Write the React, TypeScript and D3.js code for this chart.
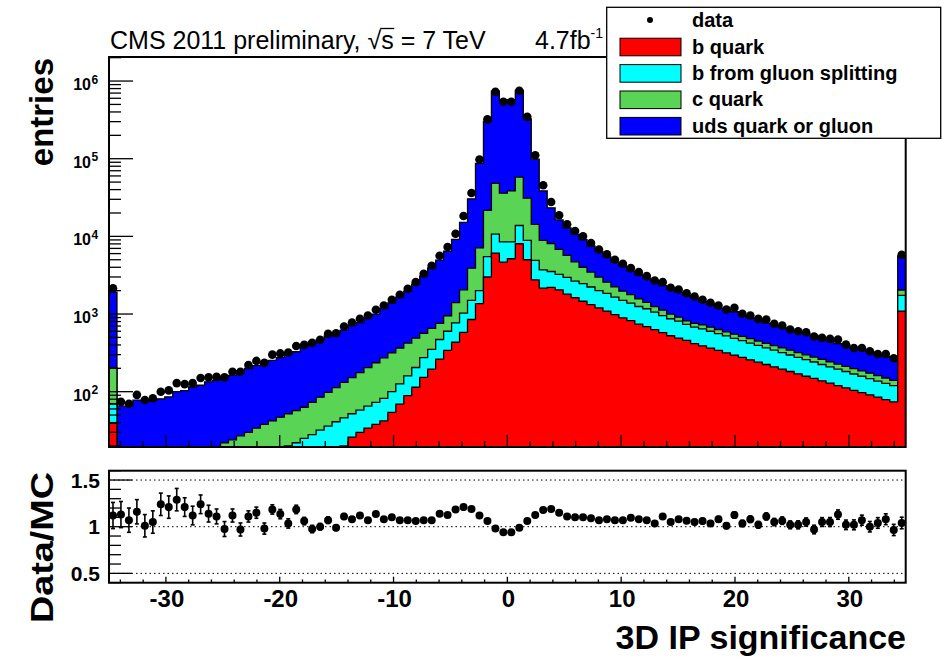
import React, { useLayoutEffect, useRef, useState } from 'react';
import * as d3 from 'd3';

// 3D IP significance, 100 bins from -35 to 35 (first and last bin hold the under/overflow)
const xMin = -35;
const xMax = 35;
const nBins = 100;

const bQuark = [39,
  1, 1, 1, 1, 1, 2, 2, 2, 2, 3,
  3, 3, 4, 4, 5, 5, 6, 7, 7, 8,
  9, 10, 11, 12, 13, 15, 16, 18, 20, 26,
  30, 34, 38, 42, 54, 69, 89, 114, 153, 195,
  263, 340, 433, 580, 850, 1360, 3000, 6100, 4650, 5150,
  8040, 5000, 2750, 2150, 2200, 2050, 1800, 1620, 1460, 1320,
  1200, 1090, 980, 890, 820, 740, 690, 630, 575, 525,
  490, 457, 417, 390, 364, 340, 317, 296, 276, 257,
  240, 224, 209, 195, 182, 170, 158, 148, 138, 129,
  120, 112, 104, 97, 91, 85, 79, 74, 1090];

const bGluon = [30,
  1, 1, 2, 2, 2, 2, 2, 3, 3, 3,
  4, 4, 4, 5, 5, 6, 6, 7, 8, 9,
  9, 10, 11, 13, 15, 17, 20, 23, 26, 26,
  28, 31, 35, 40, 46, 57, 71, 91, 122, 155,
  207, 260, 337, 450, 650, 640, 2500, 4600, 3850, 3350,
  5760, 3900, 2150, 1550, 1330, 1190, 1160, 1030, 1010, 910,
  800, 760, 670, 610, 560, 510, 480, 430, 380, 345,
  320, 278, 263, 255, 236, 220, 205, 191, 178, 166,
  154, 143, 133, 124, 115, 107, 100, 93, 86, 80,
  75, 70, 65, 61, 56, 52, 49, 46, 650];

const cQuark = [133,
  4, 5, 4, 5, 6, 6, 7, 7, 8, 8,
  9, 10, 11, 13, 14, 16, 18, 20, 23, 25,
  29, 32, 35, 38, 45, 53, 62, 72, 86, 100,
  118, 139, 163, 191, 216, 239, 263, 285, 291, 305,
  290, 350, 630, 1020, 2400, 5100, 16100, 37300, 27500, 30000,
  44200, 22100, 9400, 5200, 4570, 3560, 2740, 2050, 1530, 1240,
  990, 720, 590, 470, 400, 320, 240, 185, 165, 130,
  100, 80, 80, 80, 77, 72, 68, 64, 61, 58,
  55, 53, 50, 47, 45, 42, 40, 38, 36, 34,
  32, 30, 29, 27, 26, 24, 22, 20, 300];

const udsGluon = [1718,
  59, 58, 71, 69, 69, 71, 75, 88, 90, 101,
  105, 117, 121, 135, 138, 160, 169, 183, 202, 211,
  227, 257, 270, 315, 363, 380, 421, 458, 490, 567,
  597, 690, 762, 920, 1070, 1289, 1554, 1937, 2518, 3261,
  4187, 5521, 7739, 13074, 26520, 80220, 281200, 694900, 539500, 537000,
  699600, 295400, 84370, 29660, 15180, 9460, 7180, 5940, 5090, 4050,
  3360, 2860, 2430, 2180, 1780, 1630, 1470, 1365, 1200, 1080,
  1010, 925, 840, 715, 673, 558, 540, 519, 455, 405,
  400, 345, 319, 302, 277, 269, 256, 250, 210, 213,
  188, 184, 161, 157, 158, 133, 133, 139, 3550];

const dataCounts = [2150,
  74, 70, 91, 78, 82, 100, 104, 129, 125, 129,
  150, 153, 155, 153, 181, 181, 221, 249, 235, 300,
  311, 320, 388, 401, 425, 465, 555, 565, 690, 777,
  866, 957, 1133, 1288, 1525, 1770, 2115, 2573, 3300, 4190,
  5640, 7280, 10830, 18300, 36200, 97800, 321000, 728000, 541000, 541000,
  750000, 346000, 111000, 45500, 27700, 18700, 14300, 11700, 10000, 8200,
  6790, 5860, 5000, 4440, 3900, 3460, 3080, 2705, 2573, 2180,
  2070, 1855, 1680, 1525, 1395, 1288, 1143, 1202, 1006, 957,
  866, 849, 747, 711, 631, 600, 582, 513, 493, 479,
  469, 404, 366, 366, 331, 306, 306, 269, 5810];

const ratio = [
  1.12, 1.13, 1.07, 1.16, 1.01, 1.05, 1.24, 1.21, 1.29, 1.21,
  1.12, 1.24, 1.14, 1.11, 0.975, 1.12, 0.97, 1.11, 1.15, 0.98,
  1.185, 1.135, 1.035, 1.185, 1.06, 0.975, 1.0, 1.07, 0.99, 1.11,
  1.08, 1.12, 1.07, 1.135, 1.08, 1.10, 1.07, 1.07, 1.06, 1.07,
  1.07, 1.14, 1.125, 1.185, 1.21, 1.19, 1.12, 1.06, 0.98, 0.94,
  0.94, 0.99, 1.06, 1.125, 1.18, 1.19, 1.15, 1.11, 1.10, 1.10,
  1.09, 1.07, 1.08, 1.07, 1.07, 1.095, 1.08, 1.07, 1.035, 1.11,
  1.05, 1.08, 1.065, 1.05, 1.06, 1.035, 1.08, 1.01, 1.125, 1.035,
  1.08, 1.02, 1.11, 1.05, 1.065, 1.02, 1.02, 1.05, 0.97, 1.05,
  1.05, 1.13, 1.02, 1.02, 1.07, 1.0, 1.04, 1.08, 0.965, 1.04];

const ratioErr = [
  0.14, 0.14, 0.13, 0.13, 0.12, 0.12, 0.12, 0.12, 0.12, 0.1,
  0.1, 0.1, 0.09, 0.08, 0.08, 0.07, 0.07, 0.06, 0.06, 0.06,
  0.05, 0.05, 0.05, 0.045, 0.04, 0.04, 0.035, 0.035, 0.03, 0.03,
  0.025, 0.025, 0.02, 0.02, 0.02, 0.018, 0.016, 0.015, 0.014, 0.012,
  0.011, 0.01, 0.009, 0.008, 0.007, 0.005, 0.005, 0.005, 0.005, 0.005,
  0.005, 0.005, 0.005, 0.005, 0.005, 0.005, 0.006, 0.007, 0.008, 0.009,
  0.012, 0.013, 0.014, 0.015, 0.016, 0.017, 0.018, 0.02, 0.021, 0.022,
  0.023, 0.024, 0.025, 0.027, 0.028, 0.029, 0.03, 0.031, 0.033, 0.034,
  0.035, 0.036, 0.038, 0.039, 0.04, 0.042, 0.043, 0.044, 0.046, 0.047,
  0.048, 0.05, 0.051, 0.053, 0.054, 0.056, 0.057, 0.058, 0.06, 0.062];

const xTickLabels = [-30, -20, -10, 0, 10, 20, 30];
const yTopDecades = [2, 3, 4, 5, 6];
const ratioLabels = [0.5, 1, 1.5];

const legendItems = [
  { key: 'b', label: 'b quark', color: '#ff0000' },
  { key: 'bg', label: 'b from gluon splitting', color: '#00ffff' },
  { key: 'c', label: 'c quark', color: '#59d454' },
  { key: 'uds', label: 'uds quark or gluon', color: '#0000ff' },
];

const FONT = 'Liberation Sans, Arial, Helvetica, sans-serif';

export default function App() {
  const titleRef = useRef<SVGTextElement>(null);
  const [bar, setBar] = useState<null | { x1: number; x2: number; y: number }>(null);

  // frames
  const L = 109, R = 905.7;
  const topT = 57, topB = 447;
  const botT = 470.7, botB = 582.7;

  const x = d3.scaleLinear().domain([xMin, xMax]).range([L, R]);
  const yTop = d3.scaleLog().domain([19.4, 2.04e6]).range([topB, topT]).clamp(true);
  const yRat = d3.scaleLinear().domain([0.4, 1.6]).range([botB, botT]);

  const bw = (xMax - xMin) / nBins;
  const edges = d3.range(nBins + 1).map((i) => xMin + i * bw);
  const centers = d3.range(nBins).map((i) => xMin + (i + 0.5) * bw);

  const rows = d3.range(nBins).map((i) => ({
    b: bQuark[i], bg: bGluon[i], c: cQuark[i], uds: udsGluon[i],
  }));
  const series = d3.stack().keys(['b', 'bg', 'c', 'uds'])(rows as any);

  const area = d3
    .area<[number, number]>()
    .x((d) => x(d[0]))
    .y0(topB)
    .y1((d) => yTop(d[1]))
    .curve(d3.curveStepAfter);

  const paths = series.map((s, k) => {
    const pts: [number, number][] = edges.map((e, i) => [e, s[Math.min(i, nBins - 1)][1]]);
    return { d: area(pts) as string, color: legendItems[k].color };
  });

  // log axis ticks
  const yTicks: { v: number; major: boolean }[] = [];
  for (let e = 1; e <= 6; e++) {
    for (let m = 1; m <= 9; m++) {
      const v = m * Math.pow(10, e);
      if (v >= 19.4 && v <= 2.04e6) yTicks.push({ v, major: m === 1 });
    }
  }
  const xTicks = d3.range(-34, 35, 2).map((v) => ({ v, major: v % 10 === 0 }));
  const rTicks = d3.range(4, 17).map((i) => ({ v: i / 10, major: i % 5 === 0 }));

  useLayoutEffect(() => {
    const t = titleRef.current as any;
    if (!t || !t.getExtentOfChar) return;
    try {
      const sq = t.getExtentOfChar(22);
      const s = t.getExtentOfChar(23);
      setBar({ x1: sq.x + sq.width - 1, x2: s.x + s.width + 0.5, y: 48.5 - 25 * 0.8 });
    } catch (e) {
      /* ignore */
    }
  }, []);

  return (
    <svg
      width={947}
      height={658}
      style={{ position: 'absolute', left: 0, top: 0, background: '#fff' }}
      fontFamily={FONT}
    >
      <defs>
        <clipPath id="topclip">
          <rect x={L} y={topT} width={R - L} height={topB - topT} />
        </clipPath>
      </defs>
      <rect x={0} y={0} width={947} height={658} fill="#fff" />

      {/* stacked MC */}
      <g clipPath="url(#topclip)">
        {paths
          .slice()
          .reverse()
          .map((p, i) => (
            <path key={i} d={p.d} fill={p.color} stroke="#000" strokeWidth={1.3} />
          ))}
      </g>

      {/* data points */}
      <g>
        {dataCounts.map((v, i) => (
          <circle key={i} cx={x(centers[i])} cy={yTop(v)} r={4.3} fill="#000" />
        ))}
      </g>

      {/* top frame + ticks */}
      <rect x={L} y={topT} width={R - L} height={topB - topT} fill="none" stroke="#000" strokeWidth={2} />
      {yTicks.map((t, i) => (
        <line key={'yt' + i} x1={L} x2={L + (t.major ? 24 : 12)} y1={yTop(t.v)} y2={yTop(t.v)} stroke="#000" strokeWidth={1.3} />
      ))}
      {xTicks.map((t, i) => (
        <line key={'xt' + i} x1={x(t.v)} x2={x(t.v)} y1={topB} y2={topB - (t.major ? 12 : 6)} stroke="#000" strokeWidth={1.3} />
      ))}
      {yTopDecades.map((e) => (
        <g key={'yl' + e} fontWeight="bold">
          <text x={91} y={yTop(Math.pow(10, e)) + 9} fontSize={16} textAnchor="end">10</text>
          <text x={91.5} y={yTop(Math.pow(10, e)) + 2.5} fontSize={12}>{e}</text>
        </g>
      ))}

      {/* ratio panel */}
      {ratioLabels.map((v) => (
        <line key={'dl' + v} x1={L} x2={R} y1={yRat(v)} y2={yRat(v)} stroke="#000" strokeWidth={1} strokeDasharray="1.5 3" />
      ))}
      {ratio.map((r, i) => {
        const cx = x(centers[i]);
        const e = ratioErr[i];
        return (
          <g key={'r' + i}>
            <line x1={cx} x2={cx} y1={yRat(r - e)} y2={yRat(r + e)} stroke="#000" strokeWidth={1.6} />
            <line x1={cx - 2} x2={cx + 2} y1={yRat(r - e)} y2={yRat(r - e)} stroke="#000" strokeWidth={1.6} />
            <line x1={cx - 2} x2={cx + 2} y1={yRat(r + e)} y2={yRat(r + e)} stroke="#000" strokeWidth={1.6} />
            <circle cx={cx} cy={yRat(r)} r={4} fill="#000" />
          </g>
        );
      })}
      <rect x={L} y={botT} width={R - L} height={botB - botT} fill="none" stroke="#000" strokeWidth={2} />
      {rTicks.map((t, i) => (
        <line key={'rt' + i} x1={L} x2={L + (t.major ? 23 : 12)} y1={yRat(t.v)} y2={yRat(t.v)} stroke="#000" strokeWidth={1.3} />
      ))}
      {xTicks.map((t, i) => (
        <line key={'bt' + i} x1={x(t.v)} x2={x(t.v)} y1={botB} y2={botB - (t.major ? 6 : 3.3)} stroke="#000" strokeWidth={1.3} />
      ))}
      {ratioLabels.map((v) => (
        <text key={'rl' + v} x={100} y={yRat(v) + 7.5} fontSize={21} fontWeight="bold" textAnchor="end">{v}</text>
      ))}
      {xTickLabels.map((v) => (
        <text key={'xl' + v} x={x(v) + 1} y={607} fontSize={24} fontWeight="bold" textAnchor="middle">{v}</text>
      ))}

      {/* axis titles */}
      <text x={906} y={649} fontSize={34} fontWeight="bold" textAnchor="end">3D IP significance</text>
      <text transform="translate(53,58) rotate(-90)" fontSize={33} fontWeight="bold" textAnchor="end">entries</text>
      <text transform="translate(53,623) rotate(-90)" fontSize={31} fontWeight="bold" textLength={151} lengthAdjust="spacingAndGlyphs">Data/MC</text>

      {/* header */}
      <text ref={titleRef} x={110} y={48.5} fontSize={25}>CMS 2011 preliminary, √s = 7 TeV</text>
      {bar && <line x1={bar.x1} x2={bar.x2} y1={bar.y} y2={bar.y} stroke="#000" strokeWidth={1.3} />}
      <text x={535} y={48.5} fontSize={25}>
        4.7fb<tspan fontSize={14} dy={-11}>-1</tspan>
      </text>

      {/* legend */}
      <rect x={606.7} y={7.3} width={334} height={131} fill="#fff" stroke="#000" strokeWidth={1.3} />
      <circle cx={650} cy={20} r={3} fill="#000" />
      <text x={692} y={26.7} fontSize={20} fontWeight="bold">data</text>
      {legendItems.map((it, i) => {
        const cy = 47 + i * 26.4;
        return (
          <g key={it.key}>
            <rect x={620} y={cy - 8.8} width={61} height={17.6} fill={it.color} stroke="#000" strokeWidth={1} />
            <text x={692} y={cy + 6.5} fontSize={20} fontWeight="bold">{it.label}</text>
          </g>
        );
      })}
    </svg>
  );
}
